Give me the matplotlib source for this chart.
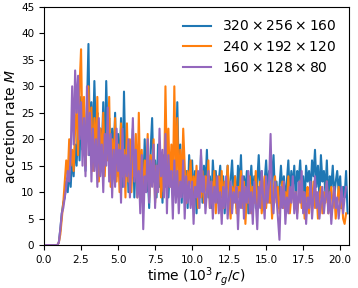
import numpy as np
import matplotlib.pyplot as plt

# time step of the sampled series, in 10^3 r_g/c
dt = 0.1

# one row per 10^3 r_g/c
mdot_320 = [
    0, 0, 0, 0, 0, 0, 0, 0, 0, 0,
    0.5, 3, 6, 8, 9, 12, 10, 14, 11, 17,
    13, 19, 15, 24, 16, 28, 18, 22, 14, 26,
    38, 17, 27, 19, 31, 21, 25, 13, 22, 17,
    27, 15, 31, 20, 24, 12, 22, 16, 25, 13,
    21, 14, 24, 11, 29, 15, 20, 10, 18, 13,
    22, 9, 17, 12, 19, 8, 16, 11, 20, 10,
    14, 7, 18, 24, 12, 16, 9, 19, 11, 15,
    8, 17, 11, 20, 9, 15, 12, 18, 10, 14,
    27, 13, 19, 8, 16, 11, 14, 7, 17, 12,
    16, 9, 14, 6, 13, 10, 17, 8, 15, 11,
    18, 9, 13, 7, 16, 11, 14, 8, 12, 15,
    9, 13, 6, 11, 15, 8, 12, 16, 10, 13,
    7, 15, 11, 17, 8, 13, 10, 14, 6, 11,
    15, 9, 13, 7, 12, 17, 10, 14, 8, 12,
    16, 10, 14, 8, 13, 17, 9, 12, 7, 11,
    15, 10, 13, 8, 12, 16, 9, 14, 11, 15,
    9, 14, 12, 16, 10, 13, 8, 15, 12, 14,
    10, 16, 13, 18, 11, 15, 9, 17, 12, 14,
    10, 16, 8, 13, 11, 15, 9, 12, 14, 10,
    13, 7, 11, 9, 14, 6,
]

mdot_240 = [
    0, 0, 0, 0, 0, 0, 0, 0, 0, 0,
    0.5, 2, 5, 8, 12, 16, 13, 20, 15, 18,
    14, 22, 26, 17, 30, 37, 19, 28, 15, 25,
    30, 18, 26, 14, 24, 16, 28, 12, 22, 15,
    25, 13, 21, 16, 28, 11, 20, 14, 24, 12,
    19, 10, 23, 13, 18, 9, 23, 12, 20, 10,
    17, 13, 21, 9, 25, 11, 18, 8, 16, 12,
    21, 9, 17, 13, 20, 8, 15, 11, 18, 9,
    14, 10, 30, 14, 22, 11, 19, 10, 30, 13,
    24, 9, 18, 11, 22, 15, 8, 14, 11, 16,
    8, 13, 10, 15, 7, 12, 9, 14, 8, 13,
    10, 16, 7, 12, 9, 14, 6, 11, 13, 8,
    14, 7, 12, 9, 15, 10, 5, 11, 8, 13,
    6, 11, 9, 14, 7, 12, 4, 10, 8, 13,
    6, 11, 8, 14, 7, 10, 12, 6, 9, 13,
    7, 11, 8, 12, 5, 10, 13, 8, 11, 6,
    9, 12, 7, 10, 8, 13, 6, 9, 11, 7,
    10, 6, 9, 12, 7, 10, 5, 9, 11, 6,
    10, 8, 12, 7, 10, 5, 9, 11, 6, 10,
    8, 12, 6, 9, 11, 7, 10, 5, 8, 11,
    7, 9, 5, 4, 6,
]

mdot_160 = [
    0, 0, 0, 0, 0, 0, 0, 0, 0, 0,
    0.5, 3, 6, 7, 9, 11, 14, 12, 17, 30,
    19, 33, 25, 32, 20, 27, 15, 24, 13, 30,
    17, 25, 12, 22, 14, 20, 11, 24, 13, 19,
    10, 21, 15, 26, 12, 21, 9, 18, 11, 22,
    14, 18, 8, 22, 11, 17, 13, 20, 9, 16,
    24, 12, 18, 9, 14, 6, 17, 3, 13, 10,
    20, 8, 16, 11, 19, 7, 15, 10, 22, 13,
    18, 9, 21, 6, 17, 11, 14, 5, 16, 8,
    14, 6, 12, 9, 16, 5, 13, 8, 12, 7,
    12, 4, 11, 9, 14, 7, 18, 10, 13, 6,
    10, 14, 7, 12, 5, 11, 8, 13, 6, 10,
    4, 11, 7, 13, 5, 9, 12, 6, 10, 8,
    11, 3, 10, 7, 13, 5, 11, 8, 14, 6,
    10, 4, 12, 8, 3, 11, 7, 14, 9, 5,
    13, 8, 12, 21, 9, 6, 12, 9, 5, 1,
    11, 7, 12, 4, 9, 6, 11, 8, 13, 6,
    10, 5, 12, 8, 14, 6, 10, 4, 9, 7,
    12, 5, 9, 13, 7, 10, 5, 8, 11, 6,
    9, 12, 6, 10, 4, 8, 11, 7, 9, 5,
    8, 11, 6, 9, 11,
]

series = [
    (mdot_320, r"$320\times256\times160$", "tab:blue"),
    (mdot_240, r"$240\times192\times120$", "tab:orange"),
    (mdot_160, r"$160\times128\times80$", "tab:purple"),
]

fig = plt.figure(figsize=(3.58, 2.88), dpi=100)
ax = fig.add_axes([0.123, 0.149, 0.852, 0.827])

for vals, label, color in series:
    t = np.arange(len(vals)) * dt
    ax.plot(t, vals, color=color, lw=1.5, label=label)

ax.set_xlim(0, 20.6)
ax.set_ylim(0, 45)
ax.set_xticks(np.arange(0, 20.1, 2.5))
ax.set_yticks(np.arange(0, 46, 5))
ax.tick_params(labelsize=7.5)
ax.set_xlabel(r"time ($10^3\, r_g/c$)", fontsize=10, labelpad=0)
ax.set_ylabel(r"accretion rate $\dot{M}$", fontsize=10)
ax.yaxis.set_label_coords(-0.082, 0.5)
ax.legend(loc="upper right", frameon=False, fontsize=10, handlelength=2.0)

fig.savefig("out.png", dpi=100)
